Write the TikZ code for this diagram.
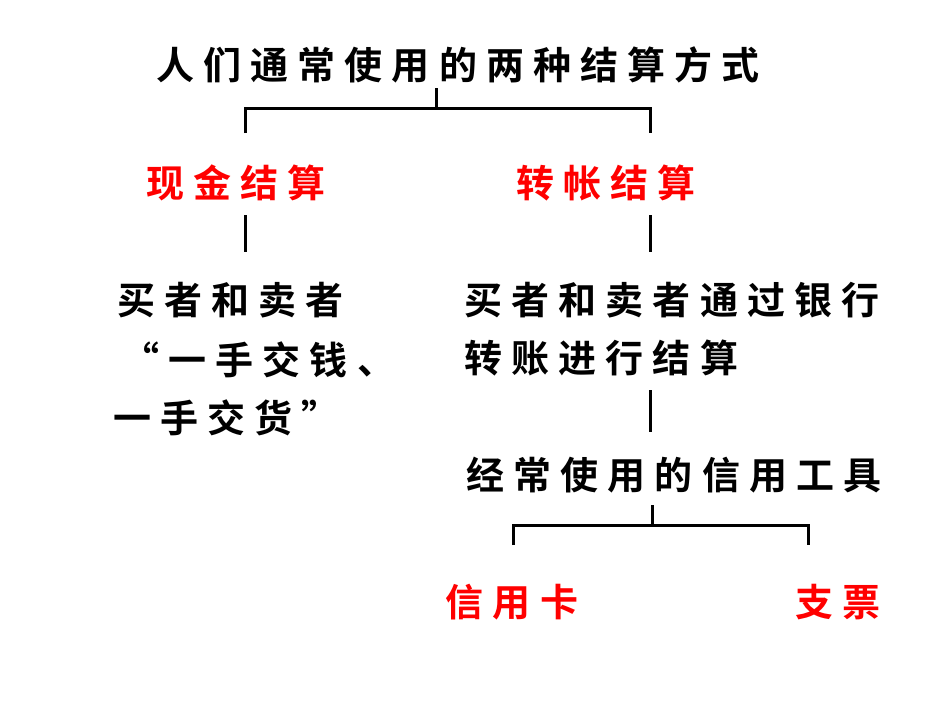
\documentclass[tikz,border=0pt]{standalone}
\usepackage{fontspec}
\newfontfamily\cjk[LetterSpace=24]{Noto Sans CJK SC Bold}
\begin{document}
\begin{tikzpicture}[x=1pt,y=-1pt,line width=3pt,
  t/.style={font=\cjk\fontsize{38}{42}\selectfont,inner sep=0pt},
  r/.style={t,text=red}]
\useasboundingbox[fill=white] (0,0) rectangle (950,713);
\node[t] (title) at (458,65) {人们通常使用的两种结算方式};
\node[r] (cash) at (236,183) {现金结算};
\node[r] (tran) at (606,183) {转帐结算};
\node[t,anchor=west] (l1) at (116,300) {买者和卖者};
\node[t,anchor=west] (l2) at (120,360) {“一手交钱、};
\node[t,anchor=west] (l3) at (112,418) {一手交货”};
\node[t,anchor=west] (r1) at (463,300) {买者和卖者通过银行};
\node[t,anchor=west] (r2) at (463,358) {转账进行结算};
\node[t,anchor=west] (r3) at (465,475) {经常使用的信用工具};
\node[r] (card) at (512,602) {信用卡};
\node[r] (chq) at (838,602) {支票};
\coordinate (a) at (436,88); \coordinate (b) at (436,108);
\draw (a) -- (b) (245,133) |- (b) -| (650,133);
\draw (245,215) -- (245,252) (650,215) -- (650,252);
\draw (650,390) -- (650,432);
\coordinate (c) at (652,505); \coordinate (d) at (652,525);
\draw (c) -- (d) (513,545) |- (d) -| (808,545);
\end{tikzpicture}
\end{document}
